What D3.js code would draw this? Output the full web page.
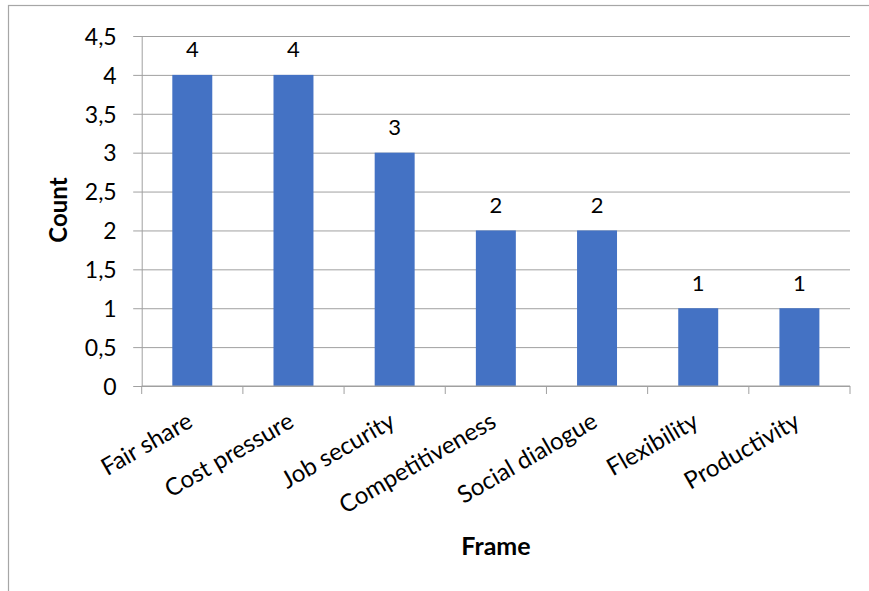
<!DOCTYPE html>
<html>
<head>
<meta charset="utf-8">
<script src="https://cdn.jsdelivr.net/npm/d3@7"></script>
<style>
  html, body { margin: 0; padding: 0; background: #fff; }
  svg { display: block; }
  text { font-family: Lato, "Open Sans", sans-serif; fill: #000; }
</style>
</head>
<body>
<svg id="chart" width="869" height="591"></svg>
<script>
const categories = ["Fair share", "Cost pressure", "Job security", "Competitiveness", "Social dialogue", "Flexibility", "Productivity"];
const counts = [4, 4, 3, 2, 2, 1, 1];
const yTicks = [0, 0.5, 1, 1.5, 2, 2.5, 3, 3.5, 4, 4.5];
const yTickLabels = ["0", "0,5", "1", "1,5", "2", "2,5", "3", "3,5", "4", "4,5"];
const xTitle = "Frame";
const yTitle = "Count";

const svg = d3.select("#chart");
const pLeft = 141.7, pRight = 850, pTop = 36, pBottom = 386;

// outer chart frame
svg.append("rect")
  .attr("x", 8.5).attr("y", 5.5)
  .attr("width", 900).attr("height", 700)
  .attr("fill", "none").attr("stroke", "#a6a6a6").attr("stroke-width", 1.2);

const x = d3.scaleBand().domain(categories).range([pLeft, pRight])
  .paddingInner(0.605).paddingOuter(0.3025);
const y = d3.scaleLinear().domain([0, 4.5]).range([pBottom, pTop]);

// gridlines + y axis ticks
const yAxis = d3.axisLeft(y).tickValues(yTicks)
  .tickSize(-(pRight - pLeft))
  .tickSizeOuter(0)
  .tickFormat((d, i) => yTickLabels[i]);
const gy = svg.append("g").attr("transform", `translate(${pLeft},0)`).call(yAxis);
gy.select(".domain").attr("stroke", "#a0a0a0");
gy.selectAll(".tick line").attr("stroke", "#a0a0a0").attr("x1", -8.5);
gy.selectAll(".tick text").attr("x", -25).attr("dy", "0.36em")
  .attr("font-size", 23).attr("font-family", "Lato").attr("fill", "#000");

// bars
svg.append("g").selectAll("rect").data(categories).join("rect")
  .attr("x", d => x(d))
  .attr("y", (d, i) => y(counts[i]))
  .attr("width", x.bandwidth())
  .attr("height", (d, i) => y(0) - y(counts[i]))
  .attr("fill", "#4472C4");

// x axis with category boundary ticks
const step = x.step();
const boundaries = d3.range(categories.length + 1).map(i => pLeft + i * step);
const gx = svg.append("g");
gx.append("line").attr("x1", pLeft).attr("x2", pRight).attr("y1", pBottom).attr("y2", pBottom)
  .attr("stroke", "#a0a0a0");
gx.selectAll("line.tk").data(boundaries).join("line").attr("class", "tk")
  .attr("x1", d => d).attr("x2", d => d).attr("y1", pBottom).attr("y2", pBottom + 8)
  .attr("stroke", "#a0a0a0");

// category labels
svg.append("g").selectAll("text").data(categories).join("text")
  .attr("transform", d => `translate(${x(d) + x.bandwidth() / 2 + 2},${426}) rotate(-30)`)
  .attr("text-anchor", "end")
  .attr("font-size", 24)
  .text(d => d);

// data labels
svg.append("g").selectAll("text").data(categories).join("text")
  .attr("x", d => x(d) + x.bandwidth() / 2)
  .attr("y", (d, i) => y(counts[i]) - 17.7)
  .attr("text-anchor", "middle")
  .attr("font-size", 22)
  .text((d, i) => counts[i]);

// axis titles
svg.append("text").attr("x", 496).attr("y", 555).attr("text-anchor", "middle")
  .attr("font-size", 25).attr("font-weight", "bold").text(xTitle);
svg.append("text").attr("transform", "translate(67,210) rotate(-90)")
  .attr("text-anchor", "middle")
  .attr("font-size", 24).attr("font-weight", "bold").text(yTitle);
</script>
</body>
</html>
